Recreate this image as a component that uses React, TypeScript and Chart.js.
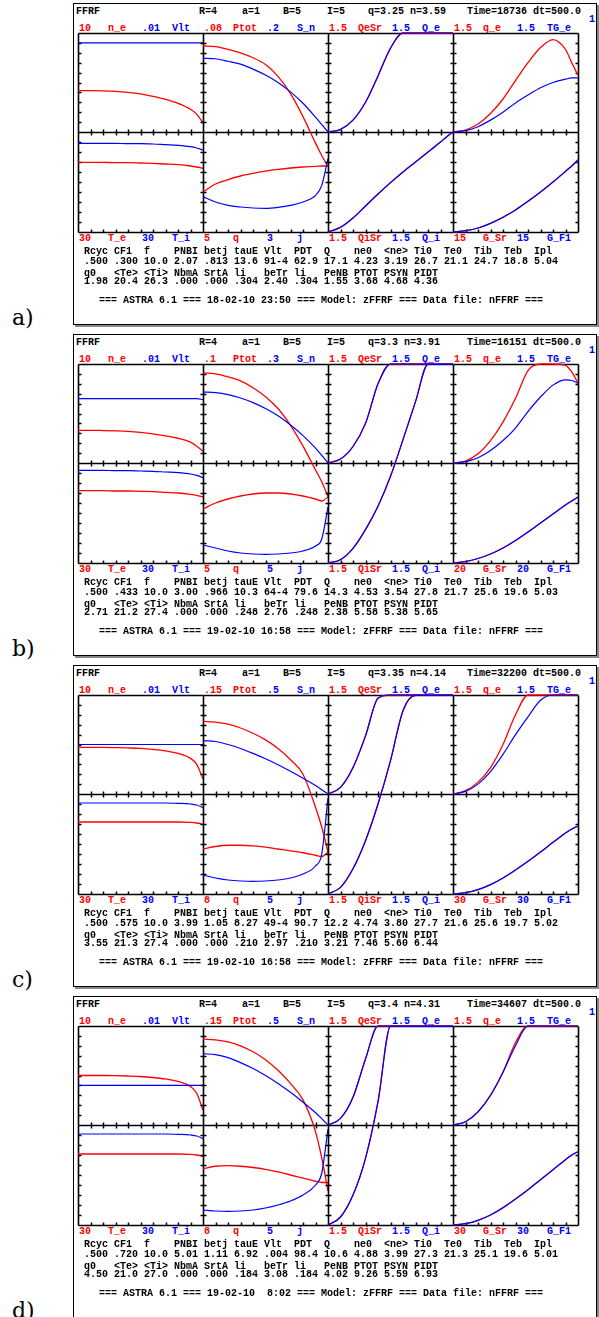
import React, { useEffect, useRef } from "react";
import { Chart, registerables } from "chart.js";
Chart.register(...registerables);

const RHO = [0, 0.1, 0.2, 0.3, 0.4, 0.5, 0.6, 0.7, 0.8, 0.9, 0.95, 1];

// ---- panel a ----
const A_ne = [4.17, 4.17, 4.15, 4.1, 4.0, 3.85, 3.6, 3.3, 2.9, 2.3, 1.8, 0.9];
const A_Vlt = [0.009, 0.009, 0.009, 0.009, 0.009, 0.009, 0.009, 0.009, 0.009, 0.009, 0.009, 0.009];
const A_Ptot = [0.0695, 0.069, 0.0668, 0.064, 0.06, 0.0545, 0.045, 0.031, 0.0124, -0.009, -0.019, -0.028];
const A_Sn = [0.149, 0.148, 0.143, 0.137, 0.127, 0.115, 0.1, 0.081, 0.058, 0.03, 0.015, 0];
const A_QeSr = [0, 0.04, 0.18, 0.45, 0.85, 1.27, 1.5, 1.5, 1.5, 1.5, 1.5, 1.5];
const A_Qe = [0, 0.04, 0.18, 0.45, 0.85, 1.27, 1.5, 1.5, 1.5, 1.5, 1.5, 1.5];
const A_qe = [0, 0.03, 0.12, 0.28, 0.5, 0.78, 1.05, 1.28, 1.4, 1.25, 1.05, 0.86];
const A_TGe = [0, 0.02, 0.08, 0.18, 0.3, 0.44, 0.56, 0.67, 0.75, 0.8, 0.82, 0.82];
const A_Te = [20.9, 20.9, 20.9, 20.8, 20.8, 20.7, 20.6, 20.4, 20.2, 19.8, 19.5, 19.1];
const A_Ti = [26.6, 26.6, 26.6, 26.6, 26.5, 26.5, 26.4, 26.2, 26.0, 25.6, 25.2, 24.6];
const A_q = [2.0, 2.4, 2.62, 2.8, 2.93, 3.04, 3.13, 3.2, 3.25, 3.28, 3.3, 3.3];
const A_j = [1.06, 0.9, 0.8, 0.75, 0.72, 0.71, 0.74, 0.8, 0.9, 1.1, 1.4, 2.2];
const A_QiSr = [0, 0.07, 0.21, 0.39, 0.57, 0.74, 0.9, 1.05, 1.2, 1.35, 1.43, 1.5];
const A_Qi = [0, 0.07, 0.21, 0.39, 0.57, 0.74, 0.9, 1.05, 1.2, 1.35, 1.43, 1.5];
const A_GSr = [0, 0.2, 0.6, 1.3, 2.2, 3.3, 4.6, 6.0, 7.5, 9.1, 9.9, 10.8];
const A_GF1 = [0, 0.2, 0.6, 1.3, 2.2, 3.3, 4.6, 6.0, 7.5, 9.1, 9.9, 10.8];

// ---- panel b ----
const B_ne = [3.3, 3.3, 3.28, 3.25, 3.2, 3.1, 2.95, 2.75, 2.5, 2.1, 1.7, 1.2];
const B_Vlt = [0.0065, 0.0065, 0.0065, 0.0065, 0.0065, 0.0065, 0.0065, 0.0065, 0.0065, 0.0065, 0.0065, 0.0064];
const B_Ptot = [0.091, 0.09, 0.087, 0.083, 0.076, 0.067, 0.055, 0.038, 0.017, -0.007, -0.019, -0.034];
const B_Sn = [0.215, 0.213, 0.207, 0.197, 0.183, 0.165, 0.143, 0.115, 0.083, 0.045, 0.023, 0];
const B_QeSr = [0, 0.06, 0.25, 0.6, 1.2, 1.5, 1.5, 1.5, 1.5, 1.5, 1.5, 1.5];
const B_Qe = [0, 0.06, 0.25, 0.6, 1.2, 1.5, 1.5, 1.5, 1.5, 1.5, 1.5, 1.5];
const B_qe = [0, 0.03, 0.14, 0.34, 0.62, 0.98, 1.4, 1.5, 1.5, 1.48, 1.38, 1.21];
const B_TGe = [0, 0.02, 0.08, 0.19, 0.34, 0.53, 0.78, 1.0, 1.18, 1.26, 1.25, 1.21];
const B_Te = [21.7, 21.7, 21.7, 21.6, 21.6, 21.5, 21.4, 21.2, 21.0, 20.6, 20.3, 19.8];
const B_Ti = [27.8, 27.8, 27.8, 27.7, 27.7, 27.6, 27.5, 27.3, 27.1, 26.7, 26.3, 25.6];
const B_q = [2.7, 3.0, 3.2, 3.35, 3.45, 3.5, 3.5, 3.45, 3.35, 3.2, 3.1, 3.3];
const B_j = [0.9, 0.75, 0.6, 0.5, 0.45, 0.43, 0.45, 0.5, 0.6, 0.85, 1.2, 2.8];
const B_QiSr = [0, 0.05, 0.22, 0.5, 0.85, 1.3, 1.85, 2.42, 2.98, 2.98, 2.98, 2.98];
const B_Qi = [0, 0.05, 0.22, 0.5, 0.85, 1.3, 1.85, 2.42, 2.98, 2.98, 2.98, 2.98];
const B_GSr = [0, 0.3, 0.9, 1.8, 3.0, 4.5, 6.2, 8.0, 9.8, 11.6, 12.4, 13.2];
const B_GF1 = [0, 0.3, 0.9, 1.8, 3.0, 4.5, 6.2, 8.0, 9.8, 11.6, 12.4, 13.2];

// ---- panel c ----
const C_ne = [4.7, 4.7, 4.7, 4.68, 4.65, 4.6, 4.5, 4.35, 4.1, 3.6, 3.0, 1.5];
const C_Vlt = [0.005, 0.005, 0.005, 0.005, 0.005, 0.005, 0.005, 0.005, 0.005, 0.005, 0.005, 0.005];
const C_Ptot = [0.11, 0.109, 0.106, 0.1, 0.092, 0.082, 0.069, 0.052, 0.03, -0.02, -0.05, -0.088];
const C_Sn = [0.27, 0.265, 0.25, 0.23, 0.205, 0.178, 0.148, 0.115, 0.08, 0.043, 0.022, 0];
const C_QeSr = [0, 0.1, 0.4, 0.88, 1.45, 1.5, 1.5, 1.5, 1.5, 1.5, 1.5, 1.5];
const C_Qe = [0, 0.1, 0.4, 0.88, 1.45, 1.5, 1.5, 1.5, 1.5, 1.5, 1.5, 1.5];
const C_qe = [0, 0.05, 0.18, 0.4, 0.75, 1.2, 1.5, 1.5, 1.5, 1.5, 1.5, 1.5];
const C_TGe = [0, 0.04, 0.15, 0.34, 0.6, 0.9, 1.17, 1.42, 1.5, 1.5, 1.5, 1.5];
const C_Te = [21.6, 21.6, 21.6, 21.6, 21.6, 21.6, 21.6, 21.6, 21.6, 21.5, 21.3, 20.9];
const C_Ti = [27.3, 27.3, 27.3, 27.3, 27.3, 27.3, 27.3, 27.3, 27.2, 27.0, 26.7, 25.9];
const C_q = [3.6, 3.8, 3.9, 3.9, 3.85, 3.75, 3.6, 3.45, 3.3, 3.1, 3.0, 3.35];
const C_j = [0.95, 0.8, 0.7, 0.65, 0.63, 0.65, 0.7, 0.8, 1.0, 1.4, 2.0, 4.8];
const C_QiSr = [0, 0.1, 0.38, 0.8, 1.35, 2.0, 2.75, 2.98, 2.98, 2.98, 2.98, 2.98];
const C_Qi = [0, 0.1, 0.38, 0.8, 1.35, 2.0, 2.75, 2.98, 2.98, 2.98, 2.98, 2.98];
const C_GSr = [0, 0.4, 1.3, 2.8, 4.8, 7.2, 9.8, 12.6, 15.5, 18.3, 19.5, 20.4];
const C_GF1 = [0, 0.4, 1.3, 2.8, 4.8, 7.2, 9.8, 12.6, 15.5, 18.3, 19.5, 20.4];

// ---- panel d ----
const D_ne = [5.0, 5.0, 5.0, 4.98, 4.95, 4.9, 4.8, 4.65, 4.4, 3.9, 3.2, 1.5];
const D_Vlt = [0.004, 0.004, 0.004, 0.004, 0.004, 0.004, 0.004, 0.004, 0.004, 0.004, 0.004, 0.004];
const D_Ptot = [0.13, 0.129, 0.126, 0.12, 0.111, 0.099, 0.083, 0.063, 0.038, -0.01, -0.05, -0.1];
const D_Sn = [0.36, 0.355, 0.34, 0.315, 0.285, 0.25, 0.21, 0.165, 0.115, 0.062, 0.032, 0];
const D_QeSr = [0, 0.1, 0.42, 1.0, 1.5, 1.5, 1.5, 1.5, 1.5, 1.5, 1.5, 1.5];
const D_Qe = [0, 0.1, 0.42, 1.0, 1.5, 1.5, 1.5, 1.5, 1.5, 1.5, 1.5, 1.5];
const D_qe = [0, 0.05, 0.2, 0.45, 0.8, 1.25, 1.5, 1.5, 1.5, 1.5, 1.5, 1.5];
const D_TGe = [0, 0.05, 0.2, 0.45, 0.8, 1.2, 1.5, 1.5, 1.5, 1.5, 1.5, 1.5];
const D_Te = [21.3, 21.3, 21.3, 21.3, 21.3, 21.3, 21.3, 21.3, 21.3, 21.2, 21.0, 20.6];
const D_Ti = [27.3, 27.3, 27.3, 27.3, 27.3, 27.3, 27.3, 27.3, 27.2, 27.0, 26.7, 25.9];
const D_q = [4.5, 4.7, 4.75, 4.7, 4.6, 4.45, 4.25, 4.0, 3.75, 3.5, 3.4, 3.4];
const D_j = [0.75, 0.7, 0.68, 0.7, 0.75, 0.85, 1.0, 1.2, 1.5, 2.0, 2.6, 4.8];
const D_QiSr = [0, 0.12, 0.45, 1.0, 1.85, 2.98, 2.98, 2.98, 2.98, 2.98, 2.98, 2.98];
const D_Qi = [0, 0.12, 0.45, 1.0, 1.85, 2.98, 2.98, 2.98, 2.98, 2.98, 2.98, 2.98];
const D_GSr = [0, 0.4, 1.4, 3.0, 5.2, 7.8, 10.6, 13.6, 16.6, 19.6, 21.0, 22.0];
const D_GF1 = [0, 0.4, 1.4, 3.0, 5.2, 7.8, 10.6, 13.6, 16.6, 19.6, 21.0, 22.0];

// axis maxima (red, blue) per subplot, top row then bottom row
const A_MAX = [[10, 0.01], [0.08, 0.2], [1.5, 1.5], [1.5, 1.5], [30, 30], [5, 3], [1.5, 1.5], [15, 15]];
const B_MAX = [[10, 0.01], [0.1, 0.3], [1.5, 1.5], [1.5, 1.5], [30, 30], [5, 5], [1.5, 1.5], [20, 20]];
const C_MAX = [[10, 0.01], [0.15, 0.5], [1.5, 1.5], [1.5, 1.5], [30, 30], [8, 5], [1.5, 1.5], [30, 30]];
const D_MAX = [[10, 0.01], [0.15, 0.5], [1.5, 1.5], [1.5, 1.5], [30, 30], [8, 5], [1.5, 1.5], [30, 30]];

const A_TOPLAB = ["10", ".01", ".08", ".2", "1.5", "1.5", "1.5", "1.5"];
const B_TOPLAB = ["10", ".01", ".1", ".3", "1.5", "1.5", "1.5", "1.5"];
const C_TOPLAB = ["10", ".01", ".15", ".5", "1.5", "1.5", "1.5", "1.5"];
const D_TOPLAB = ["10", ".01", ".15", ".5", "1.5", "1.5", "1.5", "1.5"];
const A_BOTLAB = ["30", "30", "5", "3", "1.5", "1.5", "15", "15"];
const B_BOTLAB = ["30", "30", "5", "5", "1.5", "1.5", "20", "20"];
const C_BOTLAB = ["30", "30", "8", "5", "1.5", "1.5", "30", "30"];
const D_BOTLAB = ["30", "30", "8", "5", "1.5", "1.5", "30", "30"];
const TOP_NAMES = ["n_e", "Vlt", "Ptot", "S_n", "QeSr", "Q_e", "q_e", "TG_e"];
const BOT_NAMES = ["T_e", "T_i", "q", "j", "QiSr", "Q_i", "G_Sr", "G_F1"];

const HDR_A = ["FFRF", "R=4", "a=1", "B=5", "I=5", "q=3.25 n=3.59", "Time=18736 dt=500.0"];
const HDR_B = ["FFRF", "R=4", "a=1", "B=5", "I=5", "q=3.3 n=3.91", "Time=16151 dt=500.0"];
const HDR_C = ["FFRF", "R=4", "a=1", "B=5", "I=5", "q=3.35 n=4.14", "Time=32200 dt=500.0"];
const HDR_D = ["FFRF", "R=4", "a=1", "B=5", "I=5", "q=3.4 n=4.31", "Time=34607 dt=500.0"];

const ROW1_NAMES = "Rcyc CF1  f    PNBI betj tauE Vlt  PDT  Q    ne0  <ne> Ti0  Te0  Tib  Teb  Ipl";
const ROW2_NAMES = "q0   <Te> <Ti> NbmA SrtA li   beTr li   PeNB PTOT PSYN PIDT";
const A_ROW1 = [".500", ".300", "10.0", "2.07", ".813", "13.6", "91-4", "62.9", "17.1", "4.23", "3.19", "26.7", "21.1", "24.7", "18.8", "5.04"];
const A_ROW2 = ["1.98", "20.4", "26.3", ".000", ".000", ".304", "2.40", ".304", "1.55", "3.68", "4.68", "4.36"];
const B_ROW1 = [".500", ".433", "10.0", "3.00", ".966", "10.3", "64-4", "79.6", "14.3", "4.53", "3.54", "27.8", "21.7", "25.6", "19.6", "5.03"];
const B_ROW2 = ["2.71", "21.2", "27.4", ".000", ".000", ".248", "2.76", ".248", "2.38", "5.58", "5.38", "5.65"];
const C_ROW1 = [".500", ".575", "10.0", "3.99", "1.05", "8.27", "49-4", "90.7", "12.2", "4.74", "3.80", "27.7", "21.6", "25.6", "19.7", "5.02"];
const C_ROW2 = ["3.55", "21.3", "27.4", ".000", ".000", ".210", "2.97", ".210", "3.21", "7.46", "5.60", "6.44"];
const D_ROW1 = [".500", ".720", "10.0", "5.01", "1.11", "6.92", ".004", "98.4", "10.6", "4.88", "3.99", "27.3", "21.3", "25.1", "19.6", "5.01"];
const D_ROW2 = ["4.50", "21.0", "27.0", ".000", ".000", ".184", "3.08", ".184", "4.02", "9.26", "5.59", "6.93"];
const A_FOOT = "=== ASTRA 6.1 === 18-02-10 23:50 === Model: zFFRF === Data file: nFFRF ===";
const B_FOOT = "=== ASTRA 6.1 === 19-02-10 16:58 === Model: zFFRF === Data file: nFFRF ===";
const C_FOOT = "=== ASTRA 6.1 === 19-02-10 16:58 === Model: zFFRF === Data file: nFFRF ===";
const D_FOOT = "=== ASTRA 6.1 === 19-02-10  8:02 === Model: zFFRF === Data file: nFFRF ===";

const PANELS = [
  { tag: "a)", hdr: HDR_A, max: A_MAX, top: A_TOPLAB, bot: A_BOTLAB, r1: A_ROW1, r2: A_ROW2, foot: A_FOOT,
    series: [[A_ne, A_Vlt], [A_Ptot, A_Sn], [A_QeSr, A_Qe], [A_qe, A_TGe], [A_Te, A_Ti], [A_q, A_j], [A_QiSr, A_Qi], [A_GSr, A_GF1]] },
  { tag: "b)", hdr: HDR_B, max: B_MAX, top: B_TOPLAB, bot: B_BOTLAB, r1: B_ROW1, r2: B_ROW2, foot: B_FOOT,
    series: [[B_ne, B_Vlt], [B_Ptot, B_Sn], [B_QeSr, B_Qe], [B_qe, B_TGe], [B_Te, B_Ti], [B_q, B_j], [B_QiSr, B_Qi], [B_GSr, B_GF1]] },
  { tag: "c)", hdr: HDR_C, max: C_MAX, top: C_TOPLAB, bot: C_BOTLAB, r1: C_ROW1, r2: C_ROW2, foot: C_FOOT,
    series: [[C_ne, C_Vlt], [C_Ptot, C_Sn], [C_QeSr, C_Qe], [C_qe, C_TGe], [C_Te, C_Ti], [C_q, C_j], [C_QiSr, C_Qi], [C_GSr, C_GF1]] },
  { tag: "d)", hdr: HDR_D, max: D_MAX, top: D_TOPLAB, bot: D_BOTLAB, r1: D_ROW1, r2: D_ROW2, foot: D_FOOT,
    series: [[D_ne, D_Vlt], [D_Ptot, D_Sn], [D_QeSr, D_Qe], [D_qe, D_TGe], [D_Te, D_Ti], [D_q, D_j], [D_QiSr, D_Qi], [D_GSr, D_GF1]] },
];

// ---- layout (pixels, relative to each panel) ----
const PANEL_STEP = 331;
const PL = 78, PT = 33, CW = 125, RH = [99, 100];
const M = 8;
const CANVAS_W = CW * 4 + 2 * M;
const CANVAS_H = RH[0] + RH[1] + 2 * M;
const RED = "#ff0000";
const BLUE = "#0000ff";
const FONT = "bold 10px 'Liberation Mono', 'Courier New', monospace";

const framePlugin = {
  id: "astraFrame",
  beforeDatasetsDraw(chart: any, _a: any, opts: any) {
    const { ctx } = chart;
    const xs = chart.scales.x;
    const ys = chart.scales.y;
    const L = Math.round(xs.left) + 0.5, R = Math.round(xs.right) + 0.5;
    const T = Math.round(ys.top) + 0.5, B = Math.round(ys.bottom) + 0.5;
    const col = opts.col, row = opts.row;
    ctx.save();
    ctx.strokeStyle = "#000";
    ctx.lineWidth = 1.6;
    ctx.beginPath();
    ctx.moveTo(L, T); ctx.lineTo(L, B);
    ctx.moveTo(L, B); ctx.lineTo(R, B);
    if (row === 0) { ctx.moveTo(L, T); ctx.lineTo(R, T); }
    if (col === 3) { ctx.moveTo(R, T); ctx.lineTo(R, B); }
    ctx.stroke();
    ctx.lineWidth = 1.5;
    ctx.beginPath();
    const ymax = ys.max;
    for (let k = 1; k < 10; k++) {
      const py = Math.round(ys.getPixelForValue((ymax * k) / 10)) + 0.5;
      const a = col === 0 ? 0 : -3;
      ctx.moveTo(L + a, py); ctx.lineTo(L + 3, py);
      if (col === 3) { ctx.moveTo(R - 3, py); ctx.lineTo(R, py); }
    }
    for (let k = 1; k < 10; k++) {
      const px = Math.round(xs.getPixelForValue(k / 10)) + 0.5;
      if (row === 0) {
        ctx.moveTo(px, B - 3); ctx.lineTo(px, B + 3);
      } else {
        ctx.moveTo(px, B - 3); ctx.lineTo(px, B);
      }
    }
    ctx.stroke();
    ctx.restore();
  },
};

function SubChart({ red, blue, rmax, bmax, col, row }: any) {
  const ref = useRef<HTMLCanvasElement>(null);
  useEffect(() => {
    if (!ref.current) return;
    const top = M + (row === 0 ? 0 : RH[0]);
    const bottom = M + (row === 0 ? RH[1] : 0);
    const chart = new Chart(ref.current, {
      type: "line",
      data: {
        labels: RHO,
        datasets: [
          { data: RHO.map((x, i) => ({ x, y: blue[i] })), borderColor: BLUE, borderWidth: 1.2, pointRadius: 0, cubicInterpolationMode: "monotone", yAxisID: "y2", clip: false },
          { data: RHO.map((x, i) => ({ x, y: red[i] })), borderColor: RED, borderWidth: 1.3, pointRadius: 0, cubicInterpolationMode: "monotone", yAxisID: "y", clip: false },
        ],
      },
      options: {
        animation: false,
        responsive: false,
        events: [],
        layout: { padding: { left: M + col * CW, right: M + (3 - col) * CW, top, bottom } },
        plugins: { legend: { display: false }, tooltip: { enabled: false }, astraFrame: { col, row } } as any,
        scales: {
          x: { type: "linear", min: 0, max: 1, display: false },
          y: { type: "linear", min: 0, max: rmax, display: false },
          y2: { type: "linear", min: 0, max: bmax, display: false },
        },
      },
      plugins: [framePlugin],
    });
    return () => chart.destroy();
  }, [red, blue, rmax, bmax, col, row]);
  return (
    <canvas ref={ref} width={CANVAS_W} height={CANVAS_H}
      style={{ position: "absolute", left: PL - M, top: PT - M, width: CANVAS_W, height: CANVAS_H }} />
  );
}

function T({ x, y, c = "#000", children }: any) {
  return (
    <div style={{ position: "absolute", left: x, top: y - 6, font: FONT, lineHeight: "12px", color: c, whiteSpace: "pre" }}>{children}</div>
  );
}

const HDR_X = [76, 199, 242, 283, 327, 368, 467];
const LAB_OFF = [1, 30, 64, 94];

function Panel({ p, idx }: any) {
  const oy = idx * PANEL_STEP;
  const cols = [0, 1, 2, 3];
  return (
    <div style={{ position: "absolute", left: 0, top: oy, width: 599, height: 331 }}>
      <div style={{ position: "absolute", left: 73, top: 3, width: 522, height: 320, border: "1px solid #000", boxShadow: "2px 2px 0 #888", background: "#fff" }} />
      <div style={{ position: "absolute", left: 12, top: 305, font: "22px 'DejaVu Serif', serif", color: "#000" }}>{p.tag}</div>
      {p.hdr.map((h: string, i: number) => <T key={"h" + i} x={HDR_X[i]} y={12}>{h}</T>)}
      <T x={589} y={20} c={BLUE}>1</T>
      {cols.map((c) => (
        <React.Fragment key={"tl" + c}>
          <T x={PL + c * CW + LAB_OFF[0]} y={29} c={RED}>{p.top[2 * c]}</T>
          <T x={PL + c * CW + LAB_OFF[1]} y={29} c={RED}>{TOP_NAMES[2 * c]}</T>
          <T x={PL + c * CW + LAB_OFF[2]} y={29} c={BLUE}>{p.top[2 * c + 1]}</T>
          <T x={PL + c * CW + LAB_OFF[3]} y={29} c={BLUE}>{TOP_NAMES[2 * c + 1]}</T>
          <T x={PL + c * CW + LAB_OFF[0]} y={239} c={RED}>{p.bot[2 * c]}</T>
          <T x={PL + c * CW + LAB_OFF[1]} y={239} c={RED}>{BOT_NAMES[2 * c]}</T>
          <T x={PL + c * CW + LAB_OFF[2]} y={239} c={BLUE}>{p.bot[2 * c + 1]}</T>
          <T x={PL + c * CW + LAB_OFF[3]} y={239} c={BLUE}>{BOT_NAMES[2 * c + 1]}</T>
        </React.Fragment>
      ))}
      <div style={{ position: "absolute", left: 0, top: 0 }}>
        {p.series.map((s: number[][], i: number) => (
          <SubChart key={i} red={s[0]} blue={s[1]} rmax={p.max[i][0]} bmax={p.max[i][1]} col={i % 4} row={Math.floor(i / 4)} />
        ))}
      </div>
      <T x={84} y={252}>{ROW1_NAMES}</T>
      <T x={84} y={262}>{p.r1.join(" ")}</T>
      <T x={84} y={274}>{ROW2_NAMES}</T>
      <T x={84} y={282}>{p.r2.join(" ")}</T>
      <T x={99} y={301}>{p.foot}</T>
    </div>
  );
}

export default function App() {
  return (
    <div style={{ position: "absolute", left: 0, top: 0, width: 599, height: 1317, background: "#fff", overflow: "hidden" }}>
      {PANELS.map((p, i) => <Panel key={i} p={p} idx={i} />)}
    </div>
  );
}
